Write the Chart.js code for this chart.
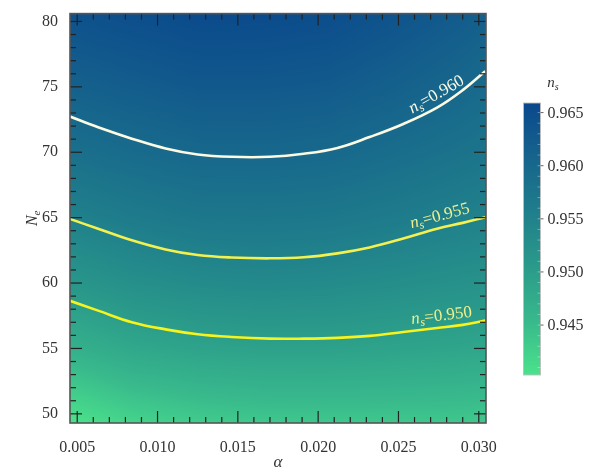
<!DOCTYPE html>
<html>
<head>
<meta charset="utf-8">
<script src="https://cdn.jsdelivr.net/npm/chart.js@4.4.0/dist/chart.umd.min.js"></script>
<style>
  html, body { margin: 0; padding: 0; background: #fff; }
</style>
</head>
<body>
<canvas id="nsChart" width="600" height="472"></canvas>
<script>
// n_s sampled on an (alpha, N_e) grid; rows follow efoldNodes, columns alphaNodes
const alphaNodes = [0.0045, 0.0085, 0.0125, 0.0165, 0.0205, 0.0245, 0.0285, 0.0305];
const efoldNodes = [49.3, 55, 60, 65, 70, 75, 80.6];
const nsGrid = [
    [0.9402, 0.9421, 0.9430, 0.9435, 0.9436, 0.9436, 0.9436, 0.9434],
    [0.9466, 0.9482, 0.9490, 0.9493, 0.9493, 0.9490, 0.9487, 0.9484],
    [0.9512, 0.9525, 0.9533, 0.9536, 0.9534, 0.9529, 0.9523, 0.9520],
    [0.9551, 0.9562, 0.9570, 0.9571, 0.9569, 0.9562, 0.9554, 0.9550],
    [0.9584, 0.9594, 0.9601, 0.9602, 0.9599, 0.9590, 0.9580, 0.9574],
    [0.9613, 0.9621, 0.9628, 0.9628, 0.9625, 0.9615, 0.9603, 0.9595],
    [0.9641, 0.9648, 0.9655, 0.9654, 0.9650, 0.9639, 0.9625, 0.9616]
];

// contour lines of constant n_s
const contourAlpha = [0.00455, 0.0063, 0.0084, 0.0105, 0.0125, 0.0146, 0.0170, 0.0191, 0.0212, 0.0232, 0.0253, 0.0274, 0.0290, 0.0304];
const contour950 = [58.64, 57.89, 57.01, 56.46, 56.09, 55.88, 55.75, 55.75, 55.81, 55.96, 56.26, 56.56, 56.80, 57.14];
const contour955 = [64.90, 64.15, 63.27, 62.57, 62.14, 61.95, 61.89, 61.97, 62.27, 62.72, 63.40, 64.15, 64.60, 65.03];
const contour960 = [72.73, 71.91, 71.04, 70.29, 69.83, 69.65, 69.65, 69.88, 70.33, 71.16, 72.16, 73.41, 74.75, 76.20];
const contourLevels = ['0.950', '0.955', '0.960'];

// ticks
const xTicks = [0.005, 0.010, 0.015, 0.020, 0.025, 0.030];
const yTicks = [50, 55, 60, 65, 70, 75, 80];
const cbTicks = [0.945, 0.950, 0.955, 0.960, 0.965];
const cbMin = 0.9403;
const cbMax = 0.9659;

// colour map, bottom (low n_s) to top
const cmapStops = [
    [0.0, [75, 226, 139]],
    [0.2, [56, 184, 140]],
    [0.4, [42, 154, 138]],
    [0.6, [31, 126, 139]],
    [0.8, [22, 100, 140]],
    [1.0, [10, 72, 140]]
];

const SERIF = '"Liberation Serif", "DejaVu Serif", serif';
const INK = '#333';

function nsColor(v) {
    let t = (v - cbMin) / (cbMax - cbMin);
    t = Math.max(0, Math.min(1, t));
    for (let i = 1; i < cmapStops.length; i++) {
        if (t <= cmapStops[i][0]) {
            const [t0, c0] = cmapStops[i - 1];
            const [t1, c1] = cmapStops[i];
            const f = (t - t0) / (t1 - t0);
            return c0.map((c, k) => Math.round(c + (c1[k] - c) * f));
        }
    }
    return cmapStops[cmapStops.length - 1][1];
}

function locate(nodes, v) {
    let j = 0;
    while (j < nodes.length - 2 && v > nodes[j + 1]) j++;
    let f = (v - nodes[j]) / (nodes[j + 1] - nodes[j]);
    return [j, Math.max(0, Math.min(1, f))];
}

// text made of pieces (for subscripts), centred on (cx, cy) and rotated
function drawPieces(ctx, pieces, cx, cy, angle, color) {
    ctx.save();
    ctx.translate(cx, cy);
    ctx.rotate(angle);
    ctx.fillStyle = color;
    ctx.textBaseline = 'alphabetic';
    ctx.textAlign = 'left';
    let total = 0;
    pieces.forEach(p => {
        ctx.font = (p.italic ? 'italic ' : '') + p.size + 'px ' + SERIF;
        p.w = ctx.measureText(p.t).width;
        total += p.w;
    });
    let xPos = -total / 2;
    pieces.forEach(p => {
        ctx.font = (p.italic ? 'italic ' : '') + p.size + 'px ' + SERIF;
        ctx.fillText(p.t, xPos, 5 + (p.dy || 0));
        xPos += p.w;
    });
    ctx.restore();
}

// the n_s background
const nsMapPlugin = {
    id: 'nsMap',
    beforeDatasetsDraw(chart) {
        const { ctx, chartArea: a, scales: { x, y } } = chart;
        const w = Math.round(a.right - a.left);
        const h = Math.round(a.bottom - a.top);
        const off = document.createElement('canvas');
        off.width = w;
        off.height = h;
        const octx = off.getContext('2d');
        const img = octx.createImageData(w, h);
        const cols = [];
        for (let i = 0; i < w; i++) cols.push(locate(alphaNodes, x.getValueForPixel(a.left + i + 0.5)));
        for (let r = 0; r < h; r++) {
            const [rj, fy] = locate(efoldNodes, y.getValueForPixel(a.top + r + 0.5));
            const g0 = nsGrid[rj], g1 = nsGrid[rj + 1];
            for (let i = 0; i < w; i++) {
                const [cj, fx] = cols[i];
                const v = (1 - fy) * ((1 - fx) * g0[cj] + fx * g0[cj + 1]) +
                          fy * ((1 - fx) * g1[cj] + fx * g1[cj + 1]);
                const c = nsColor(v);
                const k = (r * w + i) * 4;
                img.data[k] = c[0];
                img.data[k + 1] = c[1];
                img.data[k + 2] = c[2];
                img.data[k + 3] = 255;
            }
        }
        octx.putImageData(img, 0, 0);
        ctx.drawImage(off, a.left, a.top, a.right - a.left, a.bottom - a.top);
    }
};

// labels sitting on the contour lines
const contourLabelPlugin = {
    id: 'contourLabels',
    afterDatasetsDraw(chart) {
        const { ctx } = chart;
        chart.data.datasets.forEach((ds, i) => {
            const pts = chart.getDatasetMeta(i).data;
            const p0 = pts[10], p1 = pts[12], pm = pts[11];
            const ang = Math.atan2(p1.y - p0.y, p1.x - p0.x);
            const d = 12, along = 6;
            const cx = pm.x + d * Math.sin(ang) + along * Math.cos(ang);
            const cy = pm.y - d * Math.cos(ang) + along * Math.sin(ang);
            drawPieces(ctx, [
                { t: 'n', italic: true, size: 17 },
                { t: 's', italic: true, size: 12, dy: 3 },
                { t: '=' + contourLevels[i], size: 17 }
            ], cx, cy, ang, ds.labelColor);
        });
    }
};

// frame, inward ticks, colour bar and axis titles
const overlayPlugin = {
    id: 'overlay',
    afterDraw(chart) {
        const { ctx, chartArea: a, scales: { x, y } } = chart;
        ctx.save();
        ctx.strokeStyle = '#222';
        ctx.lineWidth = 1.2;
        const tick = (x0, y0, x1, y1) => {
            ctx.beginPath();
            ctx.moveTo(x0, y0);
            ctx.lineTo(x1, y1);
            ctx.stroke();
        };
        for (let k = 0; k <= 25; k++) {
            const v = 0.005 + k * 0.001;
            const px = x.getPixelForValue(v);
            const len = k % 5 === 0 ? 12 : 6;
            tick(px, a.bottom, px, a.bottom - len);
            tick(px, a.top, px, a.top + len);
        }
        for (let v = 50; v <= 80; v++) {
            const py = y.getPixelForValue(v);
            const len = v % 5 === 0 ? 12 : 6;
            tick(a.left, py, a.left + len, py);
            tick(a.right, py, a.right - len, py);
        }
        ctx.strokeStyle = '#555';
        ctx.lineWidth = 1.6;
        ctx.strokeRect(a.left, a.top, a.right - a.left, a.bottom - a.top);

        // colour bar
        const cb = { left: 523.5, right: 540.5, top: 103, bottom: 375 };
        const cbY = v => cb.bottom - (v - cbMin) / (cbMax - cbMin) * (cb.bottom - cb.top);
        const grad = ctx.createLinearGradient(0, cb.bottom, 0, cb.top);
        cmapStops.forEach(([t, c]) => grad.addColorStop(t, `rgb(${c[0]},${c[1]},${c[2]})`));
        ctx.fillStyle = grad;
        ctx.fillRect(cb.left, cb.top, cb.right - cb.left, cb.bottom - cb.top);
        ctx.strokeStyle = 'rgba(190,190,190,0.9)';
        ctx.lineWidth = 1;
        ctx.strokeRect(cb.left, cb.top, cb.right - cb.left, cb.bottom - cb.top);
        ctx.strokeStyle = 'rgba(255,255,255,0.35)';
        for (let k = 0; k <= 25; k++) {
            const v = 0.941 + k * 0.001;
            if (v > cbMax) break;
            const py = cbY(v);
            tick(cb.right - 3, py, cb.right, py);
        }
        ctx.strokeStyle = '#666';
        ctx.fillStyle = INK;
        ctx.font = '16px ' + SERIF;
        ctx.textAlign = 'left';
        ctx.textBaseline = 'middle';
        cbTicks.forEach(v => {
            const py = cbY(v);
            tick(cb.right, py, cb.right + 3, py);
            ctx.fillText(v.toFixed(3), cb.right + 7, py + 1);
        });
        ctx.restore();

        drawPieces(ctx, [
            { t: 'n', italic: true, size: 15 },
            { t: 's', italic: true, size: 10, dy: 3 }
        ], 553, 82, 0, INK);
        drawPieces(ctx, [
            { t: 'N', italic: true, size: 16 },
            { t: 'e', italic: true, size: 11, dy: 3 }
        ], 32, (a.top + a.bottom) / 2, -Math.PI / 2, INK);
        drawPieces(ctx, [
            { t: 'α', italic: true, size: 17 }
        ], (a.left + a.right) / 2, 462, 0, INK);
    }
};

const line = (vals, color, labelColor) => ({
    data: contourAlpha.map((a, i) => ({ x: a, y: vals[i] })),
    borderColor: color,
    labelColor: labelColor,
    borderWidth: 2.6,
    pointRadius: 0,
    tension: 0.4,
    clip: 0
});

new Chart(document.getElementById('nsChart'), {
    type: 'line',
    data: {
        datasets: [
            line(contour950, '#f6f31e', '#f1f08c'),
            line(contour955, '#f3f150', '#f1f08c'),
            line(contour960, '#fcfae2', '#fcfae2')
        ]
    },
    options: {
        responsive: false,
        animation: false,
        layout: { padding: { top: 6, right: 114, bottom: 0, left: 0 } },
        plugins: { legend: { display: false }, tooltip: { enabled: false } },
        scales: {
            x: {
                type: 'linear',
                min: 0.00455,
                max: 0.03045,
                grid: { display: false },
                border: { display: false },
                afterBuildTicks: s => { s.ticks = xTicks.map(v => ({ value: v })); },
                afterFit: s => { s.height = 49; },
                ticks: {
                    padding: 7,
                    color: INK,
                    maxRotation: 0,
                    font: { family: SERIF, size: 16 },
                    callback: v => v.toFixed(3)
                }
            },
            y: {
                type: 'linear',
                min: 49.3,
                max: 80.6,
                grid: { display: false },
                border: { display: false },
                afterBuildTicks: s => { s.ticks = yTicks.map(v => ({ value: v })); },
                afterFit: s => { s.width = 70; },
                ticks: {
                    padding: 4,
                    color: INK,
                    font: { family: SERIF, size: 16 }
                }
            }
        }
    },
    plugins: [nsMapPlugin, contourLabelPlugin, overlayPlugin]
});
</script>
</body>
</html>
